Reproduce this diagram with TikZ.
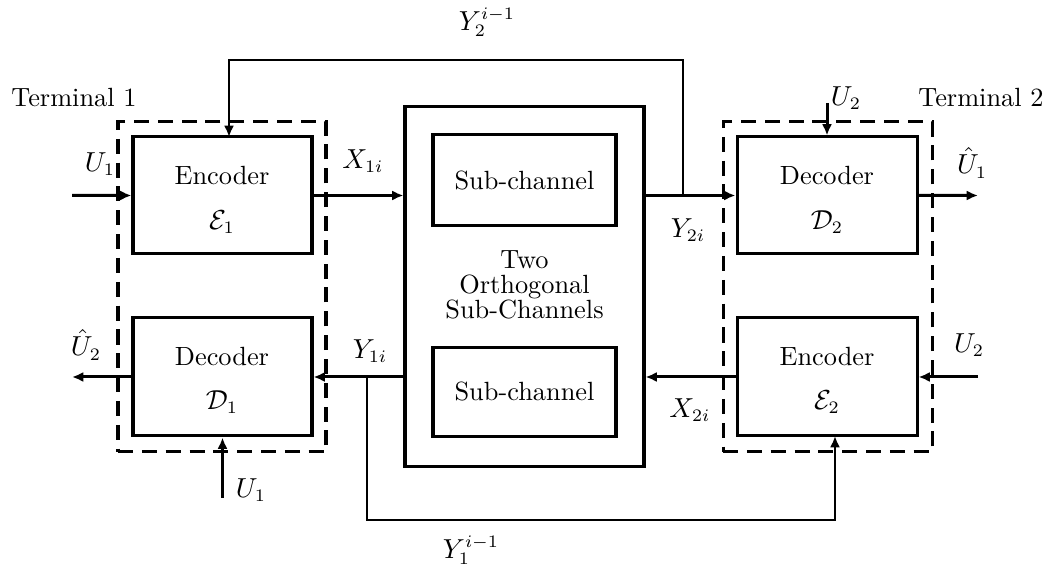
\documentclass[tikz,border=0pt]{standalone}
\usetikzlibrary{arrows.meta,fit}
\begin{document}
\begin{tikzpicture}[x=0.014cm,y=-0.014cm,
  box/.style={draw,line width=1.2pt,inner sep=0pt},
  dbox/.style={draw,line width=1.2pt,dash pattern=on 6pt off 3.5pt,inner sep=0pt},
  arr/.style={line width=1.2pt,-{Latex[length=4.5pt,width=4pt]}},
  fbarr/.style={line width=0.9pt,-{Latex[length=4.5pt,width=4pt]}},
  lbl/.style={inner sep=1pt,font=\fontsize{10.5pt}{12pt}\selectfont}]
\useasboundingbox (0,0) rectangle (1050,576);
% boxes
\node[dbox,fit={(118,122) (326,452)}] (t1) {};
\node[dbox,fit={(723,122) (932,452)}] (t2) {};
\node[box,fit={(133,137) (312,254)}] (enc1) {};
\node[box,fit={(133,318) (312,436)}] (dec1) {};
\node[box,fit={(737,137) (917,254)}] (dec2) {};
\node[box,fit={(737,318) (917,436)}] (enc2) {};
\node[box,fit={(405,107) (644,467)}] (ch) {};
\node[box,fit={(433,135) (616,226)}] (sc1) {};
\node[box,fit={(433,348) (616,437)}] (sc2) {};
% box texts
\node[lbl] (enc1a) at (222,176) {Encoder};
\node[lbl] (enc1b) at (222,222) {$\mathcal{E}_1$};
\node[lbl] (dec1a) at (222,357) {Decoder};
\node[lbl] (dec1b) at (222,402) {$\mathcal{D}_1$};
\node[lbl] (dec2a) at (827,176) {Decoder};
\node[lbl] (dec2b) at (827,222) {$\mathcal{D}_2$};
\node[lbl] (enc2a) at (827,357) {Encoder};
\node[lbl] (enc2b) at (827,402) {$\mathcal{E}_2$};
\node[lbl] (sc1t) at (524.5,181) {Sub-channel};
\node[lbl] (sc2t) at (524.5,392) {Sub-channel};
\node[lbl,align=center] (cht) at (524.5,285) {Two\\[-2pt]Orthogonal\\[-2pt]Sub-Channels};
% terminal labels
\node[lbl] (term1) at (74,98) {Terminal 1};
\node[lbl] (term2) at (981,98) {Terminal 2};
% free end coordinates
\coordinate (u1in) at (72,195.5);
\coordinate (u1hat) at (978,195.5);
\coordinate (u2hat) at (72,377);
\coordinate (u2in) at (978,377);
\coordinate (u2top) at (827,103);
\coordinate (u1bot) at (222.5,498);
\coordinate (b2) at (683,195.5);
\coordinate (b2t) at (683,60);
\coordinate (f2a) at (229,60);
\coordinate (f2b) at (229,137);
\coordinate (b1) at (367,377);
\coordinate (b1b) at (367,520);
\coordinate (f1a) at (835,520);
\coordinate (f1b) at (835,436);
% connectors
\draw[arr] (u1in) -- (enc1.west);
\draw[arr] (enc1.east) -- (enc1.east -| ch.west);
\draw[arr] (ch.east |- dec2.west) -- (dec2.west);
\draw[arr] (dec2.east) -- (u1hat);
\draw[arr] (u2top) -- (dec2.north);
\draw[arr] (u2in) -- (enc2.east);
\draw[arr] (enc2.west) -- (enc2.west -| ch.east);
\draw[arr] (ch.west |- dec1.east) -- (dec1.east);
\draw[arr] (dec1.west) -- (u2hat);
\draw[arr] (u1bot) -- (dec1.south);
\draw[fbarr] (b2) -- (b2t) -- (f2a) -- (f2b);
\draw[fbarr] (b1) -- (b1b) -- (f1a) -- (f1b);
% signal labels
\node[lbl] (lu1) at (100,164) {$U_1$};
\node[lbl] (lx1) at (363,161) {$X_{1i}$};
\node[lbl] (ly2) at (688,230) {$Y_{2i}$};
\node[lbl] (lu1h) at (972,163) {$\hat{U}_1$};
\node[lbl] (lu2t) at (846,98) {$U_2$};
\node[lbl] (lu2r) at (969,345) {$U_2$};
\node[lbl] (lx2) at (690,410) {$X_{2i}$};
\node[lbl] (ly1) at (370,351) {$Y_{1i}$};
\node[lbl] (lu2h) at (86,345) {$\hat{U}_2$};
\node[lbl] (lu1b) at (251,490) {$U_1$};
\node[lbl] (ly2f) at (487,22) {$Y_2^{i-1}$};
\node[lbl] (ly1f) at (471,550) {$Y_1^{i-1}$};
\end{tikzpicture}
\end{document}
